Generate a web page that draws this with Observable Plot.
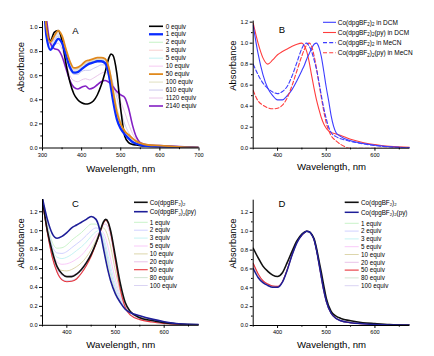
<!DOCTYPE html>
<html><head><meta charset="utf-8">
<script src="https://cdn.jsdelivr.net/npm/d3@7"></script>
<script src="https://cdn.jsdelivr.net/npm/@observablehq/plot@0.6"></script>
<style>
body{margin:0;background:#fff;}
#root{position:relative;width:434px;height:356px;overflow:hidden;background:#fff;}
.panel{position:absolute;width:217px;height:178px;}
</style></head><body><div id="root"></div>
<script>
// ---------- Panel A : titration, 300-700 nm ----------
const aWl = [300,310,320,330,340,350,360,370,380,390,400,410,420,430,440,450,460,470,475,480,490,500,510,520,530,540,550,570,600,650,700];
const aEq0    = [1.45,1.0,0.89,0.96,0.975,0.89,0.70,0.55,0.45,0.40,0.375,0.365,0.37,0.39,0.44,0.52,0.63,0.75,0.78,0.77,0.62,0.32,0.1,0.045,0.03,0.025,0.02,0.015,0.01,0.005,0.002];
const aEq1    = [1.45,0.93,0.815,0.86,0.905,0.87,0.77,0.67,0.625,0.63,0.655,0.68,0.70,0.71,0.72,0.72,0.705,0.6,0.5,0.4,0.24,0.16,0.115,0.08,0.05,0.035,0.025,0.015,0.01,0.008,0.003];
const aEq2    = [1.45,0.95,0.83,0.87,0.915,0.88,0.78,0.68,0.635,0.64,0.665,0.69,0.71,0.72,0.73,0.73,0.715,0.62,0.52,0.42,0.26,0.17,0.12,0.085,0.055,0.038,0.028,0.017,0.012,0.008,0.003];
const aEq3    = [1.45,0.96,0.84,0.89,0.93,0.89,0.79,0.69,0.645,0.65,0.675,0.70,0.715,0.725,0.735,0.735,0.72,0.63,0.53,0.43,0.27,0.175,0.125,0.09,0.06,0.04,0.03,0.018,0.013,0.008,0.003];
const aEq5    = [1.45,0.97,0.85,0.9,0.945,0.9,0.8,0.7,0.65,0.655,0.68,0.705,0.72,0.73,0.74,0.74,0.725,0.64,0.55,0.44,0.28,0.18,0.13,0.095,0.065,0.045,0.032,0.02,0.015,0.009,0.004];
const aEq10   = [1.45,0.98,0.86,0.91,0.955,0.91,0.81,0.71,0.655,0.66,0.685,0.71,0.725,0.735,0.745,0.745,0.73,0.65,0.56,0.46,0.29,0.19,0.135,0.1,0.07,0.048,0.035,0.022,0.016,0.01,0.004];
const aEq50   = [1.45,1.0,0.88,0.93,0.975,0.93,0.82,0.72,0.665,0.67,0.69,0.72,0.73,0.74,0.75,0.75,0.74,0.66,0.58,0.48,0.3,0.2,0.14,0.11,0.08,0.055,0.04,0.025,0.02,0.01,0.005];
const aEq100  = [1.45,1.0,0.88,0.92,0.96,0.92,0.81,0.71,0.655,0.66,0.68,0.705,0.715,0.725,0.735,0.74,0.735,0.67,0.6,0.51,0.34,0.22,0.15,0.11,0.08,0.055,0.04,0.025,0.02,0.01,0.005];
const aEq610  = [1.45,1.0,0.87,0.9,0.93,0.88,0.77,0.66,0.61,0.61,0.635,0.645,0.645,0.66,0.675,0.69,0.69,0.64,0.6,0.54,0.42,0.31,0.2,0.13,0.08,0.05,0.035,0.02,0.015,0.008,0.003];
const aEq1120 = [1.45,1.0,0.87,0.86,0.87,0.82,0.71,0.6,0.56,0.55,0.565,0.575,0.565,0.58,0.6,0.62,0.63,0.6,0.575,0.53,0.45,0.38,0.3,0.2,0.12,0.065,0.04,0.025,0.018,0.01,0.003];
const aEq2140 = [1.45,1.08,0.87,0.825,0.815,0.76,0.66,0.56,0.505,0.49,0.505,0.515,0.49,0.5,0.525,0.55,0.56,0.545,0.53,0.51,0.47,0.44,0.42,0.33,0.19,0.09,0.045,0.025,0.02,0.012,0.003];
const aLabels = ["0 equiv","1 equiv","2 equiv","3 equiv","5 equiv","10 equiv","50 equiv","100 equiv","610 equiv","1120 equiv","2140 equiv"];

// ---------- Panel B : normalised spectra, solvents ----------
const bWl = [350,360,370,380,390,400,410,420,430,440,450,455,460,465,470,475,480,485,490,495,500,505,510,520,530,550,575,600,630,672];
const bCoDCM  = [1.17,0.9,0.7,0.57,0.5,0.46,0.46,0.5,0.56,0.645,0.74,0.79,0.85,0.9,0.95,0.99,1.0,0.96,0.87,0.73,0.58,0.45,0.31,0.15,0.11,0.07,0.045,0.028,0.014,0.005];
const bPyDCM  = [1.19,1.0,0.86,0.8,0.84,0.89,0.92,0.945,0.97,0.99,1.0,0.975,0.92,0.82,0.69,0.57,0.46,0.37,0.29,0.23,0.19,0.165,0.15,0.135,0.12,0.085,0.055,0.035,0.017,0.008];
const bCoMeCN = [0.8,0.7,0.62,0.57,0.535,0.52,0.54,0.59,0.69,0.82,0.95,0.99,1.0,0.97,0.92,0.84,0.75,0.63,0.5,0.38,0.28,0.2,0.15,0.11,0.09,0.065,0.042,0.025,0.012,0.005];
const bPyMeCN = [0.55,0.45,0.41,0.385,0.375,0.38,0.41,0.48,0.6,0.74,0.88,0.94,0.985,1.0,0.97,0.88,0.76,0.62,0.48,0.35,0.24,0.17,0.12,0.07,0.035,0.0,0.0,0.0,0.0,0.0];
const bLabels = ["Co(dpgBF_2)_2 in DCM","Co(dpgBF_2)_2(py) in DCM","Co(dpgBF_2)_2 in MeCN","Co(dpgBF_2)_2(py) in MeCN"];

// ---------- Panel C ----------
const cWl = [350,360,370,380,390,400,410,420,430,440,450,460,465,470,475,480,485,490,500,510,520,530,550,575,600,630,672];
const cCo   = [1.33,1.0,0.78,0.62,0.545,0.515,0.515,0.54,0.59,0.66,0.75,0.87,0.94,1.02,1.09,1.12,1.09,1.0,0.72,0.44,0.24,0.15,0.08,0.05,0.028,0.013,0.005];
const cPy   = [1.34,1.12,0.97,0.92,0.94,0.98,1.03,1.06,1.09,1.12,1.15,1.12,1.06,0.95,0.82,0.69,0.57,0.47,0.33,0.24,0.17,0.135,0.1,0.065,0.038,0.016,0.008];
const cEq1  = [1.33,1.07,0.88,0.815,0.82,0.85,0.9,0.94,0.98,1.03,1.07,1.07,1.04,0.97,0.87,0.76,0.64,0.53,0.36,0.25,0.17,0.13,0.095,0.062,0.036,0.015,0.008];
const cEq2  = [1.33,1.05,0.84,0.765,0.76,0.78,0.82,0.86,0.9,0.95,1.0,1.03,1.02,0.98,0.9,0.8,0.68,0.57,0.39,0.27,0.18,0.13,0.092,0.06,0.035,0.015,0.008];
const cEq3  = [1.33,1.04,0.81,0.72,0.705,0.72,0.75,0.79,0.83,0.88,0.94,0.99,1.0,0.99,0.94,0.85,0.73,0.62,0.43,0.29,0.19,0.135,0.09,0.058,0.034,0.015,0.007];
const cEq5  = [1.32,1.03,0.78,0.67,0.645,0.65,0.67,0.7,0.74,0.8,0.87,0.95,0.98,1.0,0.98,0.92,0.82,0.7,0.48,0.31,0.2,0.14,0.09,0.057,0.033,0.014,0.007];
const cEq10 = [1.32,1.01,0.75,0.61,0.58,0.575,0.59,0.62,0.66,0.72,0.8,0.9,0.96,1.01,1.03,1.0,0.93,0.83,0.57,0.35,0.21,0.14,0.085,0.055,0.03,0.013,0.006];
const cEq20 = [1.31,1.0,0.74,0.59,0.53,0.515,0.525,0.55,0.6,0.67,0.76,0.87,0.94,1.01,1.06,1.07,1.03,0.94,0.66,0.4,0.22,0.14,0.08,0.05,0.028,0.012,0.005];
const cEq50 = [1.3,0.98,0.72,0.56,0.48,0.46,0.465,0.49,0.55,0.63,0.73,0.86,0.93,1.01,1.08,1.11,1.08,0.98,0.68,0.38,0.19,0.11,0.06,0.035,0.02,0.008,0.003];
const cEq80 = [1.3,0.98,0.725,0.565,0.485,0.465,0.47,0.495,0.555,0.635,0.735,0.865,0.935,1.01,1.08,1.105,1.075,0.98,0.685,0.39,0.2,0.115,0.065,0.038,0.022,0.009,0.003];
const cEq100= [1.3,0.985,0.73,0.57,0.49,0.47,0.475,0.5,0.56,0.64,0.74,0.87,0.94,1.015,1.085,1.11,1.08,0.985,0.69,0.395,0.205,0.12,0.068,0.04,0.023,0.01,0.004];
const cdLabels = ["Co(dpgBF_2)_2","Co(dpgBF_2)_2(py)","1 equiv","2 equiv","3 equiv","5 equiv","10 equiv","20 equiv","50 equiv","80 equiv","100 equiv"];

// ---------- Panel D ----------
const dWl = [350,360,370,380,390,400,410,420,430,440,450,455,460,465,470,475,480,485,490,495,500,510,520,530,550,575,600,630,672];
const dCo   = [0.82,0.72,0.63,0.575,0.535,0.52,0.56,0.67,0.79,0.9,0.97,0.99,1.0,0.995,0.97,0.92,0.82,0.69,0.56,0.42,0.29,0.15,0.1,0.075,0.05,0.03,0.02,0.01,0.005];
const dPy   = [0.605,0.51,0.455,0.425,0.405,0.405,0.46,0.59,0.75,0.88,0.96,0.985,1.0,0.995,0.965,0.91,0.8,0.66,0.51,0.37,0.26,0.13,0.075,0.05,0.03,0.018,0.01,0.005,0.003];
const dEq1  = [0.615,0.515,0.46,0.43,0.41,0.408,0.462,0.592,0.752,0.882,0.96,0.985,1.0,0.995,0.965,0.91,0.8,0.66,0.51,0.37,0.26,0.13,0.075,0.05,0.03,0.018,0.01,0.005,0.003];
const dEq2  = [0.62,0.52,0.462,0.432,0.412,0.409,0.462,0.592,0.752,0.882,0.96,0.985,1.0,0.995,0.965,0.91,0.8,0.66,0.51,0.37,0.26,0.13,0.075,0.05,0.03,0.018,0.01,0.005,0.003];
const dEq3  = [0.625,0.525,0.465,0.434,0.414,0.41,0.463,0.593,0.753,0.883,0.96,0.985,1.0,0.995,0.965,0.91,0.8,0.66,0.51,0.37,0.26,0.13,0.075,0.05,0.03,0.018,0.01,0.005,0.003];
const dEq5  = [0.635,0.53,0.467,0.436,0.415,0.411,0.463,0.593,0.753,0.883,0.96,0.985,1.0,0.995,0.965,0.91,0.8,0.66,0.51,0.37,0.26,0.13,0.075,0.05,0.03,0.018,0.01,0.005,0.003];
const dEq10 = [0.64,0.535,0.469,0.437,0.416,0.412,0.464,0.594,0.754,0.884,0.96,0.985,1.0,0.995,0.965,0.91,0.8,0.66,0.51,0.37,0.26,0.13,0.075,0.05,0.03,0.018,0.01,0.005,0.003];
const dEq20 = [0.645,0.54,0.471,0.438,0.417,0.413,0.464,0.594,0.754,0.884,0.96,0.985,1.0,0.995,0.965,0.91,0.8,0.66,0.51,0.37,0.26,0.13,0.075,0.05,0.03,0.018,0.01,0.005,0.003];
const dEq50 = [0.66,0.55,0.475,0.44,0.42,0.415,0.465,0.595,0.755,0.885,0.96,0.985,1.0,0.995,0.965,0.91,0.8,0.66,0.51,0.37,0.26,0.13,0.075,0.05,0.03,0.018,0.01,0.005,0.003];
const dEq80 = [0.655,0.545,0.473,0.439,0.419,0.414,0.465,0.595,0.755,0.885,0.96,0.985,1.0,0.995,0.965,0.91,0.8,0.66,0.51,0.37,0.26,0.13,0.075,0.05,0.03,0.018,0.01,0.005,0.003];
const dEq100= [0.66,0.55,0.475,0.44,0.42,0.415,0.465,0.595,0.755,0.885,0.96,0.985,1.0,0.995,0.965,0.91,0.8,0.66,0.51,0.37,0.26,0.13,0.075,0.05,0.03,0.018,0.01,0.005,0.003];

// ---------- tick values ----------
const aXTicks = [300,400,500,600,700], aXMinor = [350,450,550,650];
const aYTicks = [0,0.2,0.4,0.6,0.8,1.0], aYMinor = [0.1,0.3,0.5,0.7,0.9];
const wXTicks = [400,500,600], wXMinor = [350,450,550,650];
const wYTicks = [0,0.2,0.4,0.6,0.8,1.0,1.2], wYMinor = [0.1,0.3,0.5,0.7,0.9,1.1];

const FONT = '"Liberation Sans", Arial, Helvetica, sans-serif';

function S(label, values, color, width, layer, dash) { return {label, values, color, width, layer, dash}; }

const panels = [
 { left:0, top:0, wl:aWl, x:[300,700], y:[0,1.05], xt:aXTicks, xm:aXMinor, yt:aYTicks, ym:aYMinor,
   m:{top:21,right:18.5,bottom:30.5,left:42}, letter:{t:"A",x:75.3,y:30},
   yl:{dx:-21.3,dy:7.4}, xl:{dy:20.8},
   leg:{x1:149,x2:163,tx:165.7,ys:d3.range(11).map(i=>26.3+i*7.97),fs:6.3},
   series:[
     S(aLabels[0],aEq0,"#000000",1.6,5), S(aLabels[1],aEq1,"#0a2cff",2.3,6),
     S(aLabels[2],aEq2,"#bff0bf",0.9,1), S(aLabels[3],aEq3,"#f7c9c9",0.9,1),
     S(aLabels[4],aEq5,"#bdeff0",0.9,1), S(aLabels[5],aEq10,"#f5c4f0",0.9,1),
     S(aLabels[6],aEq50,"#e0891c",1.8,7), S(aLabels[7],aEq100,"#dcdcb8",0.9,1),
     S(aLabels[8],aEq610,"#c6c4ec",0.9,1), S(aLabels[9],aEq1120,"#e6bfe6",0.9,1),
     S(aLabels[10],aEq2140,"#8420c4",1.6,4)] },
 { left:217, top:0, wl:bWl, x:[350,672], y:[0,1.21], xt:wXTicks, xm:wXMinor, yt:wYTicks, ym:wYMinor,
   m:{top:20.6,right:24.5,bottom:30.3,left:35.7}, letter:{t:"B",x:65,y:29.3},
   yl:{dx:-20.7,dy:6}, xl:{dy:19},
   leg:{x1:106,x2:119,tx:120.7,ys:[22.3,32.5,42.6,52.7],fs:6.5},
   series:[
     S(bLabels[0],bCoDCM,"#3d3dff",1.1,2), S(bLabels[1],bPyDCM,"#ff3d3d",1.1,1),
     S(bLabels[2],bCoMeCN,"#3d3dff",1.1,3,"4,2.2"), S(bLabels[3],bPyMeCN,"#ff3d3d",1.1,2,"4,2.2")] },
 { left:0, top:178, wl:cWl, x:[350,672], y:[0,1.33], xt:wXTicks, xm:wXMinor, yt:wYTicks, ym:wYMinor,
   m:{top:21,right:18.3,bottom:31.2,left:42}, letter:{t:"C",x:75.5,y:25.3},
   yl:{dx:-21.3,dy:6}, xl:{dy:19.2},
   leg:{x1:134,x2:147.7,tx:149.7,ys:[24.3,33.7].concat(d3.range(9).map(i=>44.3+i*7.9)),fs:6.3},
   series:[
     S(cdLabels[0],cCo,"#111111",1.6,5), S(cdLabels[1],cPy,"#1e1e98",1.6,6),
     S(cdLabels[2],cEq1,"#c4f2c4",0.9,1), S(cdLabels[3],cEq2,"#ccccff",0.9,1),
     S(cdLabels[4],cEq3,"#bff2f2",0.9,1), S(cdLabels[5],cEq5,"#f8c4f8",0.9,1),
     S(cdLabels[6],cEq10,"#d9d1a3",0.9,1), S(cdLabels[7],cEq20,"#e6bce6",0.9,1),
     S(cdLabels[8],cEq50,"#e8343c",1.1,4), S(cdLabels[9],cEq80,"#cde2cd",0.9,1),
     S(cdLabels[10],cEq100,"#d6cff2",0.9,1)] },
 { left:217, top:178, wl:dWl, x:[350,672], y:[0,1.33], xt:wXTicks, xm:wXMinor, yt:wYTicks, ym:wYMinor,
   m:{top:21.7,right:24.5,bottom:31,left:35.7}, letter:{t:"D",x:65,y:25},
   yl:{dx:-20.7,dy:5.7}, xl:{dy:19},
   leg:{x1:127.7,x2:141.7,tx:144,ys:[24.3,34.3].concat(d3.range(9).map(i=>45.3+i*7.8)),fs:6.3},
   series:[
     S(cdLabels[0],dCo,"#111111",1.6,5), S(cdLabels[1],dPy,"#1e1e98",1.5,6),
     S(cdLabels[2],dEq1,"#c4f2c4",0.9,1), S(cdLabels[3],dEq2,"#ccccff",0.9,1),
     S(cdLabels[4],dEq3,"#bff2f2",0.9,1), S(cdLabels[5],dEq5,"#f8c4f8",0.9,1),
     S(cdLabels[6],dEq10,"#d9d1a3",0.9,1), S(cdLabels[7],dEq20,"#e6bce6",0.9,1),
     S(cdLabels[8],dEq50,"#e8343c",1.1,4), S(cdLabels[9],dEq80,"#cde2cd",0.9,1),
     S(cdLabels[10],dEq100,"#d6cff2",0.9,1)] }
];

// text with "_x" marking a one-character subscript
function addRich(sel, label, fs) {
  const parts = label.split(/_(\w)/);
  let shift = 0;
  parts.forEach((p, i) => {
    if (!p) return;
    if (i % 2 === 1) {
      sel.append("tspan").attr("font-size", fs * 0.68).attr("dy", 1.6 - shift).text(p);
      shift = 1.6;
    } else {
      sel.append("tspan").attr("dy", -shift).text(p);
      shift = 0;
    }
  });
}

const root = document.getElementById("root");
for (const p of panels) {
  const marks = [];
  const ordered = p.series.slice().sort((a, b) => a.layer - b.layer);
  for (const s of ordered) {
    const rows = p.wl.map((w, i) => ({w, a: s.values[i]}));
    marks.push(Plot.line(rows, {x: "w", y: "a", stroke: s.color, strokeWidth: s.width,
      strokeDasharray: s.dash, curve: "monotone-x", clip: true}));
  }
  marks.push(
    Plot.ruleY([p.y[0]], {stroke: "#000", strokeWidth: 1}),
    Plot.ruleX([p.x[0]], {stroke: "#000", strokeWidth: 1}),
    Plot.axisX({ticks: p.xt, tickSize: 3, tickPadding: 1.6, tickFormat: d => String(d), label: null}),
    Plot.axisX({ticks: p.xm, tickSize: 1.7, tickFormat: () => "", label: null}),
    Plot.axisY({ticks: p.yt, tickSize: 3, tickPadding: 2, tickFormat: d3.format(".1f"), label: null}),
    Plot.axisY({ticks: p.ym, tickSize: 1.7, tickFormat: () => "", label: null}),
    Plot.text(["Wavelength, nm"], {frameAnchor: "bottom", dy: p.xl.dy, fontSize: 9.6, lineAnchor: "middle"}),
    Plot.text(["Absorbance"], {frameAnchor: "left", dx: p.yl.dx, dy: p.yl.dy, rotate: -90, fontSize: 9.4, lineAnchor: "middle"})
  );
  const svg = Plot.plot({
    width: 217, height: 178,
    marginTop: p.m.top, marginRight: p.m.right, marginBottom: p.m.bottom, marginLeft: p.m.left,
    x: {domain: p.x}, y: {domain: p.y},
    style: {fontSize: "5.6px", fontFamily: FONT, background: "transparent", color: "#000", overflow: "visible"},
    marks
  });
  const div = document.createElement("div");
  div.className = "panel";
  div.style.left = p.left + "px";
  div.style.top = p.top + "px";
  div.appendChild(svg);
  root.appendChild(div);

  const g = d3.select(svg).append("g").attr("font-family", FONT);
  g.append("text").attr("x", p.letter.x).attr("y", p.letter.y)
    .attr("text-anchor", "middle").attr("dominant-baseline", "central")
    .attr("font-size", 9.5).attr("fill", "#000").text(p.letter.t);
  const lg = g.append("g").attr("text-anchor", "start");
  p.series.forEach((s, i) => {
    const y = p.leg.ys[i];
    lg.append("line").attr("x1", p.leg.x1).attr("x2", p.leg.x2).attr("y1", y).attr("y2", y)
      .attr("stroke", s.color).attr("stroke-width", s.width).attr("stroke-dasharray", s.dash || null);
    const t = lg.append("text").attr("x", p.leg.tx).attr("y", y + p.leg.fs * 0.35)
      .attr("text-anchor", "start").attr("font-size", p.leg.fs).attr("fill", "#000");
    addRich(t, s.label, p.leg.fs);
  });
}
</script></body></html>
